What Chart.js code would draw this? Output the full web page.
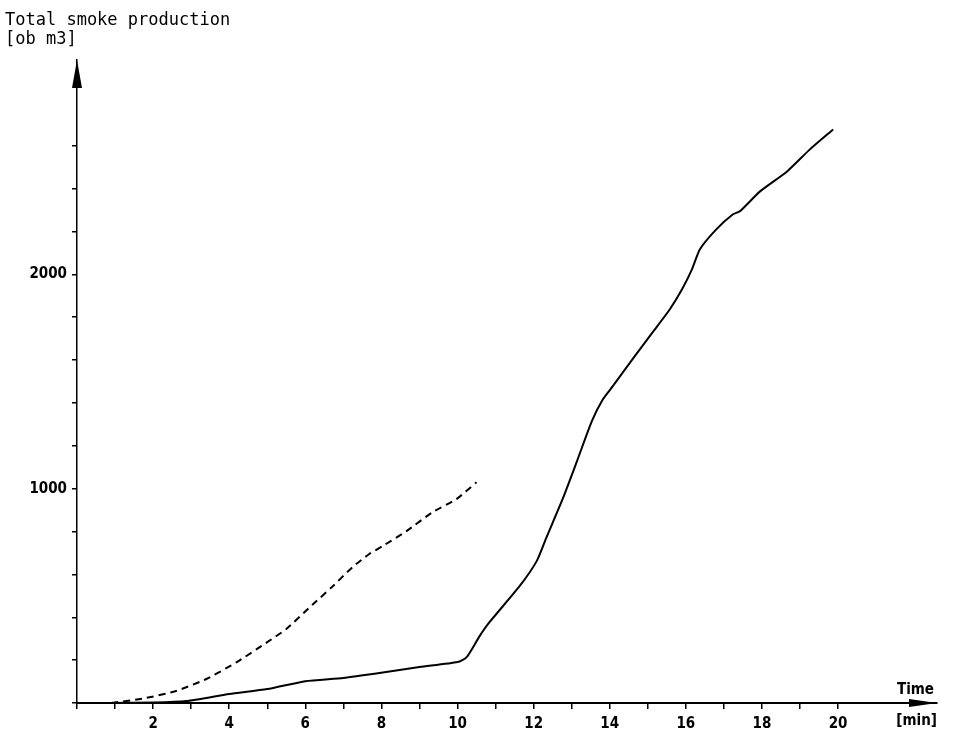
<!DOCTYPE html>
<html>
<head>
<meta charset="utf-8">
<script src="https://cdn.jsdelivr.net/npm/chart.js@4"></script>
<style>
  body { margin: 0; background: #fff; }
  #wrap { width: 953px; height: 737px; }
</style>
</head>
<body>
<div id="wrap"><canvas id="smokeChart" width="953" height="737"></canvas></div>
<script>
// Time [min] and total smoke production [ob m3]
const dashedTime = [0.9, 1.8, 2.6, 3.4, 4.2, 5.0, 5.5, 6.2, 6.7, 7.24, 7.68, 8.03, 8.66, 9.34, 9.97, 10.5];
const dashedSmoke = [0, 23, 56, 112, 191, 284, 345, 461, 541, 634, 695, 732, 802, 890, 951, 1030];

const solidTime = [0.9, 2.0, 2.87, 4.0, 5.0, 6.0, 7.0, 7.95, 9.0, 10.0, 10.24, 10.58, 10.84, 11.63, 12.08, 12.34, 12.76, 13.13, 13.53, 13.82, 14.08, 14.6, 15.13, 15.58, 15.9, 16.16, 16.37, 16.8, 17.24, 17.42, 17.95, 18.66, 19.26, 19.87];
const solidSmoke = [0, 2, 9, 42, 65, 102, 117, 140, 168, 191, 214, 312, 377, 545, 662, 774, 951, 1124, 1315, 1417, 1478, 1604, 1730, 1837, 1930, 2023, 2117, 2210, 2280, 2294, 2387, 2480, 2583, 2676];

const xLabels = [2, 4, 6, 8, 10, 12, 14, 16, 18, 20];
const yLabels = [1000, 2000];

const toPoints = (xs, ys) => xs.map((x, i) => ({ x: x, y: ys[i] }));

const labelFont = { family: '"Liberation Sans Narrow", "DejaVu Sans Condensed", sans-serif', size: 15, weight: 'bold' };

// axis arrows and the axis captions
const arrowsAndText = {
    id: 'arrowsAndText',
    afterDraw(chart) {
        const c = chart.ctx;
        const xs = chart.scales.x;
        const ys = chart.scales.y;
        const x0 = xs.left;
        const y0 = ys.bottom;
        c.save();
        c.fillStyle = '#000';
        // y arrow
        c.beginPath();
        c.moveTo(x0, ys.top);
        c.lineTo(x0 - 5, ys.top + 28);
        c.lineTo(x0 + 5, ys.top + 28);
        c.closePath();
        c.fill();
        // x arrow
        c.beginPath();
        c.moveTo(xs.right, y0);
        c.lineTo(xs.right - 28, y0 - 4);
        c.lineTo(xs.right - 28, y0 + 4);
        c.closePath();
        c.fill();

        c.font = '17px "DejaVu Sans Mono"';
        c.textBaseline = 'alphabetic';
        c.textAlign = 'left';
        c.fillText('Total smoke production', 5, 25);
        c.fillText('[ob m3]', 5, 44);
        c.font = 'bold 15px "Liberation Sans Narrow", "DejaVu Sans Condensed", sans-serif';
        c.textAlign = 'right';
        c.fillText('Time', 934, 694);
        c.fillText('[min]', 937, 725);
        c.restore();
    }
};

new Chart(document.getElementById('smokeChart').getContext('2d'), {
    type: 'line',
    data: {
        datasets: [{
            label: 'dashed',
            data: toPoints(dashedTime, dashedSmoke),
            borderColor: '#000',
            borderWidth: 2,
            borderDash: [7, 5],
            pointRadius: 0,
            tension: 0.2
        }, {
            label: 'solid',
            data: toPoints(solidTime, solidSmoke),
            borderColor: '#000',
            borderWidth: 2,
            pointRadius: 0,
            tension: 0.2
        }]
    },
    options: {
        responsive: false,
        animation: false,
        layout: { padding: { top: 60, right: 16, left: 0, bottom: 0 } },
        plugins: {
            legend: { display: false },
            tooltip: { enabled: false }
        },
        scales: {
            x: {
                type: 'linear',
                min: 0,
                max: 22.6,
                border: { display: true, color: '#000', width: 2 },
                grid: { drawOnChartArea: false, color: '#000', tickLength: 6, lineWidth: 1.5 },
                afterBuildTicks: (s) => {
                    const t = [];
                    for (let v = 0; v <= 20; v++) t.push({ value: v });
                    s.ticks = t;
                },
                ticks: {
                    autoSkip: false,
                    maxRotation: 0,
                    color: '#000',
                    font: labelFont,
                    padding: 6,
                    callback: (v) => xLabels.includes(v) ? String(v) : ''
                },
                afterFit: (s) => { s.height = 34; }
            },
            y: {
                min: 0,
                max: 3000,
                border: { display: true, color: '#000', width: 1.5 },
                grid: { drawOnChartArea: false, color: '#000', tickLength: 5, lineWidth: 1.5 },
                afterBuildTicks: (s) => {
                    const t = [];
                    for (let v = 0; v <= 2600; v += 200) t.push({ value: v });
                    s.ticks = t;
                },
                ticks: {
                    autoSkip: false,
                    color: '#000',
                    font: labelFont,
                    padding: 5,
                    callback: (v) => yLabels.includes(v) ? String(v) : ''
                },
                afterFit: (s) => { s.width = 77; }
            }
        }
    },
    plugins: [arrowsAndText]
});
</script>
</body>
</html>
